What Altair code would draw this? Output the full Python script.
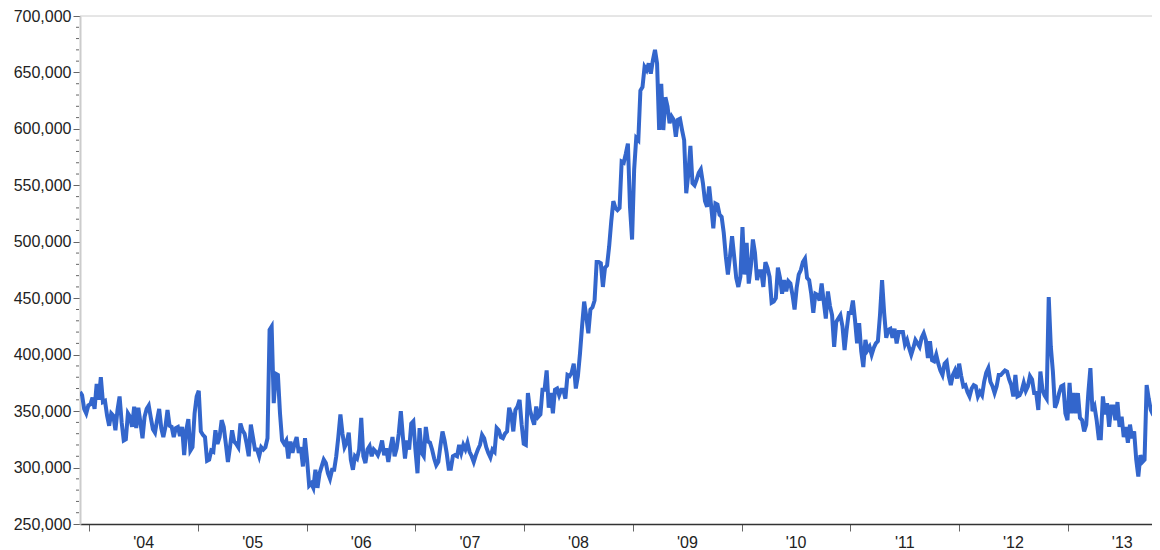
import altair as alt
import pandas as pd

# Weekly initial jobless claims (thousands), starting week of 2003-12-01
claims_2004 = [367, 364, 352, 348, 355, 356, 362, 352, 374, 360, 380, 358, 359, 346, 337, 348, 346, 333,
               351, 363, 340, 324, 325, 348, 345, 336, 354, 335, 353, 340, 326, 345, 352, 355, 344, 334,
               331, 342, 352, 335, 327, 336, 351, 337, 336, 327, 335, 336, 328, 336, 311, 333, 343, 315,
               318, 348, 363, 368, 332, 329, 327, 306, 307, 315, 314, 333]
claims_2005 = [321, 327, 342, 336, 321, 305, 318, 333, 323, 321, 318, 339, 333, 330, 321, 310, 338, 327,
               316, 316, 310, 318, 316, 318, 326, 422, 425, 357, 383, 382, 348, 324, 321, 324, 308, 323,
               313, 321, 327, 313, 318, 301, 326, 307, 284, 286, 282, 298, 282, 295, 301, 307, 304, 295,
               290, 298, 298, 310, 327, 347, 330, 318, 322, 331, 307]
claims_2006 = [298, 310, 308, 316, 344, 310, 304, 316, 319, 310, 316, 314, 311, 316, 324, 311, 317, 305,
               317, 327, 310, 317, 330, 350, 327, 308, 324, 316, 339, 341, 316, 295, 335, 313, 310, 336,
               323, 322, 316, 308, 302, 305, 319, 332, 324, 313, 299, 299, 310, 311, 310, 320, 313, 320,
               316, 322, 314, 310, 305, 311, 316, 320, 329, 326, 318]
claims_2007 = [313, 309, 316, 314, 335, 333, 327, 326, 330, 332, 353, 347, 332, 351, 354, 360, 338, 321,
               320, 366, 351, 344, 338, 354, 345, 347, 369, 369, 386, 353, 366, 348, 369, 370, 364, 369,
               369, 361, 382, 381, 384, 392, 370, 381, 401, 425, 447, 434, 419, 440, 442, 448, 482, 482,
               481, 460, 477, 479, 496, 518, 536, 530, 528]
claims_2008 = [530, 571, 570, 578, 587, 531, 502, 564, 592, 590, 634, 637, 655, 652, 658, 649, 661, 670,
               658, 599, 640, 599, 628, 620, 605, 611, 608, 593, 608, 609, 599, 590, 543, 560, 585, 552,
               550, 555, 561, 564, 552, 536, 531, 549, 531, 512, 534, 533, 524, 522, 508, 487, 471, 487,
               505, 487, 468, 460, 469, 513, 471, 499, 463, 478, 502, 490, 466]
claims_2009 = [474, 474, 460, 482, 477, 469, 446, 447, 450, 477, 468, 454, 466, 456, 465, 463, 453, 440,
               459, 471, 475, 482, 485, 468, 466, 454, 437, 454, 453, 448, 463, 447, 432, 456, 443, 435,
               407, 429, 432, 435, 425, 404, 422, 437, 437, 448, 431, 410, 428, 403, 389, 413, 404, 407,
               400, 406, 410, 412, 435, 466, 437, 415, 422, 423, 415]
claims_2010 = [423, 410, 420, 420, 420, 409, 413, 406, 400, 406, 413, 410, 407, 415, 419, 413, 397, 412,
               395, 394, 400, 392, 386, 382, 392, 394, 381, 373, 382, 386, 379, 392, 381, 372, 373, 367,
               363, 370, 373, 372, 363, 367, 364, 376, 384, 388, 376, 372, 366, 372, 382, 382, 384, 386,
               385, 378, 373, 363, 382, 363, 364, 368, 375, 368, 372]
claims_2011 = [381, 378, 366, 366, 351, 385, 369, 364, 361, 451, 407, 385, 353, 358, 366, 372, 373, 348,
               342, 375, 348, 366, 348, 366, 344, 342, 332, 338, 366, 388, 350, 354, 342, 326, 326, 363,
               347, 357, 336, 354, 354, 342, 358, 336, 345, 327, 336, 322, 338, 326, 332, 307, 292, 311,
               305, 307, 373, 361, 351, 347, 345, 339, 325]

values_k = (claims_2004 + claims_2005 + claims_2006 + claims_2007 + claims_2008 +
            claims_2009 + claims_2010 + claims_2011)
dates = pd.date_range("2003-12-01", periods=len(values_k), freq="7D")
df = pd.DataFrame({"date": dates, "claims": [v * 1000 for v in values_k]})

year_ticks = [alt.DateTime(year=y, month=1, date=1) for y in range(2004, 2014)]
y_major = list(range(250000, 700001, 50000))
y_minor = [v for v in range(250000, 700001, 10000) if v % 50000 != 0]
top_line = pd.DataFrame({"y": [700000]})
minor_df = pd.DataFrame({"y": y_minor})

FONT = "Liberation Sans"

x_scale = alt.Scale(domain=[alt.DateTime(year=2003, month=12, date=1),
                            alt.DateTime(year=2013, month=10, date=11)])
y_scale = alt.Scale(domain=[250000, 700000], nice=False, zero=False)

y_axis = alt.Axis(values=y_major, format=",.0f", tickSize=7,
                  labelPadding=2, tickColor="#666666",
                  domainColor="#cccccc", domainWidth=2,
                  labelFontSize=16, labelFont=FONT, labelColor="#222222",
                  grid=False, labelOverlap=False, labelFlush=False)
x_axis = alt.Axis(values=year_ticks, format="'%y", labelOffset=54,
                  tickSize=7, labelPadding=3, tickColor="#666666",
                  domainColor="#333333", domainWidth=1.5,
                  labelFontSize=16, labelFont=FONT, labelColor="#222222",
                  grid=False, labelFlush=False, labelOverlap=False,
                  labelBound=False)

line = alt.Chart(df).mark_line(color="#3366cc", strokeWidth=4, clip=True).encode(
    x=alt.X("date:T", scale=x_scale, title=None, axis=x_axis),
    y=alt.Y("claims:Q", scale=y_scale, title=None, axis=y_axis),
)

top = alt.Chart(top_line).mark_rule(color="#cccccc", strokeWidth=1).encode(
    y=alt.Y("y:Q", scale=y_scale, title=None, axis=y_axis)
)

minor = alt.Chart(minor_df).mark_rule(color="#666666", strokeWidth=1).encode(
    y=alt.Y("y:Q", scale=y_scale, title=None, axis=y_axis),
    x=alt.value(-4),
    x2=alt.value(-1),
)

chart = alt.layer(line, top, minor).properties(
    width=1072, height=508,
    autosize=alt.AutoSizeParams(type="none"),
    padding={"left": 72, "top": 8, "right": 0, "bottom": 26},
    background="white",
).configure_view(stroke=None)

chart.save("out.html", embed_options={"renderer": "svg", "actions": False})
